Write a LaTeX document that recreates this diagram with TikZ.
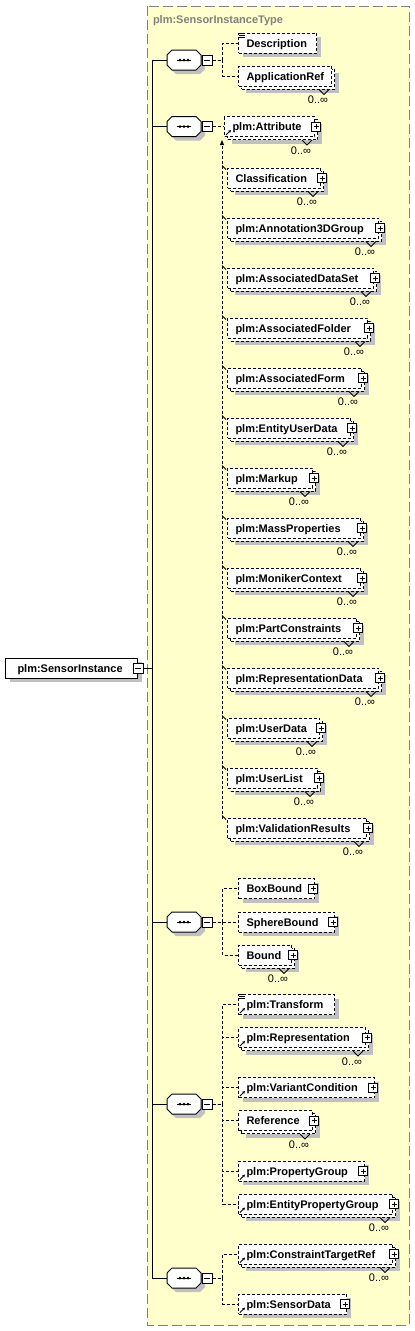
\documentclass[tikz,border=0pt]{standalone}
\usepackage{fontspec}
\setmainfont{Liberation Sans}
\usetikzlibrary{shadows,arrows.meta}
\definecolor{bgyellow}{RGB}{255,255,204}
\definecolor{shadowgray}{RGB}{192,192,192}
\definecolor{titlegray}{RGB}{128,128,128}
\newcommand\elfont{\fontsize{11}{13}\selectfont\bfseries}
\newcommand\cardfont{\fontsize{11}{13}\selectfont}
\tikzset{
  elem/.style={draw=black, fill=white, dash pattern=on 3pt off 2pt, minimum height=20pt,
    inner ysep=0pt, inner xsep=8pt, text height=10pt, text depth=2pt, align=left,
    font=\elfont, anchor=west},
  oneel/.style={general shadow={fill=shadowgray, draw=none, shadow xshift=4pt, shadow yshift=-4pt}},
  multiel/.style={general shadow={fill=shadowgray, draw=none, shadow xshift=7pt, shadow yshift=-7pt},
    general shadow={fill=white, draw=black, dash pattern=on 3pt off 2pt, shadow xshift=3pt, shadow yshift=-3pt}},
  plusbox/.style={draw=black, solid, fill=white, minimum size=9pt, inner sep=0pt,
    path picture={\draw[line width=1pt] ([xshift=2pt]path picture bounding box.west) -- ([xshift=-2pt]path picture bounding box.east)
      ([yshift=-2pt]path picture bounding box.north) -- ([yshift=2pt]path picture bounding box.south);}},
  minusbox/.style={draw=black, solid, fill=white, minimum size=10pt, inner sep=0pt,
    path picture={\draw[line width=1pt] ([xshift=2pt]path picture bounding box.west) -- ([xshift=-2pt]path picture bounding box.east);}},
  seqnode/.style={minimum width=34pt, minimum height=20pt, inner sep=0pt},
  card/.style={font=\cardfont, anchor=base, inner sep=0pt},
  conn/.style={draw=black, dash pattern=on 3pt off 2pt},
  bgline/.style={draw=titlegray, fill=bgyellow, dash pattern=on 10pt off 4pt},
  titletext/.style={font=\elfont, text=titlegray, anchor=base west, inner sep=0pt},
  refarrow/.style={solid, line width=1pt, -{Stealth[length=3pt,width=3pt]}},
}
% element box: [style] name left right yc text
\newcommand\El[6][]{%
  \pgfmathsetmacro\elw{#4-#3-16}%
  \node[elem,#1,text width=\elw pt] (#2) at (#3,#5) {\mbox{#6}};}
\newcommand\PlusM[1]{\node[plusbox] (#1-p) at ([shift={(1,0)}]#1.east) {};}
\newcommand\PlusS[1]{\node[plusbox] (#1-p) at ([shift={(-2,0)}]#1.east) {};}
\newcommand\Card[1]{%
  \draw[solid] ([shift={(-13,3)}]#1.south east) -- ++(5,5) -- ++(5,-5);
  \node[card] (#1-c) at ([shift={(-14,17)}]#1.south east) {0..∞};}
\newcommand\RefMark[1]{\draw[refarrow] ([shift={(2,-2)}]#1.south west) -- ++(5,-5);}
\newcommand\Simple[1]{\draw[solid] ([shift={(1,0.5)}]#1.north west) -- ++(6,0)
  ([shift={(1,2.5)}]#1.north west) -- ++(6,0) ([shift={(1,4.5)}]#1.north west) -- ++(6,0);}
\newcommand\Sub[1]{\draw[solid] ([shift={(-5,-2)}]#1.north west) -- ++(4,4);}
\newcommand\Octo[1]{%
  \begin{scope}[shift={(#1.center)}]
    \fill[shadowgray] (-8,-6) -- (16,-6) -- (21,-1) -- (21,9) -- (16,14) -- (-8,14) -- (-13,9) -- (-13,-1) -- cycle;
    \filldraw[fill=white] (-12,-10) -- (12,-10) -- (17,-5) -- (17,5) -- (12,10) -- (-12,10) -- (-17,5) -- (-17,-5) -- cycle;
    \draw (-7,0) -- (7,0);
    \fill (-4,0) circle (1.5pt) (0,0) circle (1.5pt) (4,0) circle (1.5pt);
  \end{scope}}
\begin{document}
\begin{tikzpicture}[x=1pt,y=-1pt,line width=1pt]
\useasboundingbox (0,0) rectangle (415,1331);
\draw[bgline] (147,6) rectangle (409,1325);
\node[titletext] (ttl) at (152.5,23.5) {plm:SensorInstanceType};

% main element
\node[elem,solid,oneel,inner xsep=12pt,text width=108pt] (sensor) at (5,668) {\mbox{plm:SensorInstance}};
\node[minusbox] (mm) at (sensor.east) {};
\coordinate (sp0) at (152,668);

% sequence compositors
\foreach \n/\yy in {1/60,2/126.5,3/922,4/1104,5/1278}{
  \node[seqnode] (s\n) at (184,\yy) {};
  \Octo{s\n}
  \node[minusbox] (q\n) at (207,\yy) {};
}

% sequence 1
\El[oneel]{desc}{238}{316}{43}{Description}
\Simple{desc}
\El[multiel]{appref}{238}{331}{76}{ApplicationRef}
\Card{appref}

% sequence 2
\El[multiel]{attr}{224}{314}{126.5}{plm:Attribute}
\RefMark{attr}\Card{attr}\PlusM{attr}

\foreach \nm/\rt/\k/\tx in {cls/320/0/Classification, anno/378/1/plm:Annotation3DGroup,
  ads/373/2/plm:AssociatedDataSet, afold/367/3/plm:AssociatedFolder, aform/361/4/plm:AssociatedForm,
  eud/350/5/plm:EntityUserData, mkp/312/6/plm:Markup, mass/360/7/plm:MassProperties,
  mon/360/8/plm:MonikerContext, pc/356/9/plm:PartConstraints, rd/378/10/plm:RepresentationData,
  ud/319/11/plm:UserData, ul/317/12/plm:UserList, vr/366/13/plm:ValidationResults}{
  \pgfmathsetmacro\yy{178+50*\k}
  \El[multiel]{\nm}{227}{\rt}{\yy}{\tx}
  \Card{\nm}\PlusM{\nm}\Sub{\nm}
}

% sequence 3
\El[oneel]{bbox}{238}{314}{888.5}{BoxBound}
\PlusS{bbox}
\El[oneel]{sbound}{238}{334}{922}{SphereBound}
\PlusS{sbound}
\El[multiel]{bound}{238}{291}{955}{Bound}
\Card{bound}\PlusM{bound}

% sequence 4
\El[oneel]{trf}{238}{334}{1004.5}{plm:Transform}
\Simple{trf}\RefMark{trf}
\El[multiel]{rep}{238}{365}{1037.5}{plm:Representation}
\RefMark{rep}\Card{rep}\PlusM{rep}
\El[oneel]{vc}{238}{374}{1087.5}{plm:VariantCondition}
\RefMark{vc}\PlusS{vc}
\El[multiel]{refn}{238}{312}{1120.5}{Reference}
\Card{refn}\PlusM{refn}
\El[oneel]{pg}{238}{364}{1171}{plm:PropertyGroup}
\RefMark{pg}\PlusS{pg}
\El[multiel]{epg}{238}{392}{1204}{plm:EntityPropertyGroup}
\RefMark{epg}\Card{epg}\PlusM{epg}

% sequence 5
\El[multiel]{ctr}{238}{392}{1254}{plm:ConstraintTargetRef}
\RefMark{ctr}\Card{ctr}\PlusM{ctr}
\El[oneel]{sd}{238}{346}{1304}{plm:SensorData}
\RefMark{sd}\PlusS{sd}

% connectors
\draw (mm.east) -- (sp0);
\foreach \n in {1,...,5} \draw (s\n.west) -| (sp0);
\foreach \t in {desc,appref} \draw[conn] (q1.east) -- ++(10,0) |- (\t.west);
\draw[conn] (q2.east) -- (attr.west);
\foreach \t in {bbox,sbound,bound} \draw[conn] (q3.east) -- ++(10,0) |- (\t.west);
\foreach \t in {trf,rep,vc,refn,pg,epg} \draw[conn] (q4.east) -- ++(10,0) |- (\t.west);
\foreach \t in {ctr,sd} \draw[conn] (q5.east) -- ++(10,0) |- (\t.west);
\coordinate (subtop) at (222,140);
\coordinate (subbot) at (222,819);
\draw[conn,-{Triangle[length=5pt,width=4pt]}] (subbot) -- (subtop);
\end{tikzpicture}
\end{document}
